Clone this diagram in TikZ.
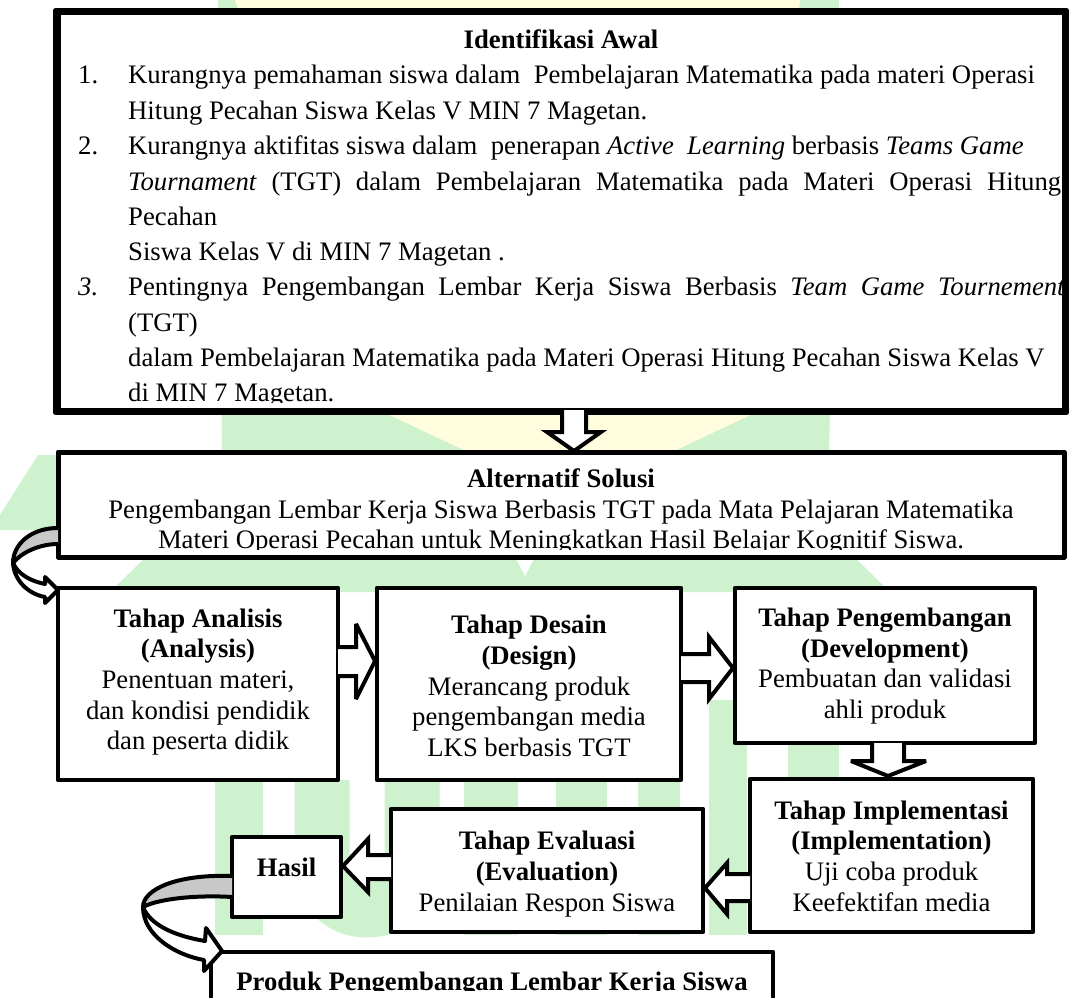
\documentclass[tikz,border=0pt]{standalone}
\usepackage{fontspec}
\setmainfont{Liberation Serif}
\definecolor{wmgreen}{HTML}{CDF2CD}
\definecolor{wmyellow}{HTML}{FFFDDE}
\definecolor{bandgray}{HTML}{C8C8C8}
\tikzset{
  box/.style={rectangle, draw=black, fill=white, line width=4.5pt, line join=round, inner sep=0pt},
  bigbox/.style={box, line width=5pt},
  blk/.style={draw=black, fill=white, line width=4pt, line join=miter, miter limit=4},
  curvearrow/.style={draw=black, line width=4pt, line join=round},
  t/.style={inner sep=0pt, font=\fontsize{26.7}{30.7}\selectfont},
  tb/.style={inner sep=0pt, font=\fontsize{26.7}{30.7}\selectfont\bfseries},
  tc/.style={t, align=center},
}
\begin{document}
\begin{tikzpicture}[x=1pt,y=-1pt]
\useasboundingbox (0,0) rectangle (1069,998);
\fill[white] (0,0) rectangle (1069,998);
% ---- watermark (faint logo behind the chart)
\fill[wmgreen] (218,0) -- (839,0) -- (829,455) -- (222,455) -- cycle;
\fill[wmyellow] (235,0) -- (800,0) -- (757,412) -- (570,500) -- (383,412) -- cycle;
\fill[wmgreen] (60,455) -- (60,530) -- (0,530) -- (0,515) -- (38,455) -- cycle;
\fill[wmgreen] (110,592) -- (150,553) -- (850,553) -- (890,592) -- cycle;
\fill[white] (513,553) -- (537,553) -- (525,576) -- cycle;
\fill[wmgreen] (215,780) rectangle (263,935);
\draw[wmgreen, line width=55pt] (322,780) -- (322,865) .. controls (322,925) and (412,925) .. (412,865) -- (412,780);
\fill[wmgreen] (464,780) rectangle (518,935);
\fill[wmgreen] (556,780) rectangle (607,935);
\fill[wmgreen] (638,780) rectangle (680,935);
\fill[wmgreen] (709,700) rectangle (747,935);
\fill[wmgreen] (788,740) rectangle (839,780);

% ---- boxes
\node[bigbox, minimum width=1006pt, minimum height=397pt] (ident) at (561,211.5) {};
\node[bigbox, minimum width=1006pt, minimum height=105pt] (alt) at (561,504.5) {};
\node[box, minimum width=280pt, minimum height=192pt] (ana) at (198,684) {};
\node[box, minimum width=304pt, minimum height=192pt] (des) at (529,684) {};
\node[box, minimum width=300pt, minimum height=155pt] (dev) at (885,665.5) {};
\node[box, minimum width=283pt, minimum height=153pt] (imp) at (891.5,855.5) {};
\node[box, minimum width=312pt, minimum height=123pt] (eva) at (547,870.5) {};
\node[box, minimum width=109pt, minimum height=80pt] (has) at (286.5,877) {};
\node[box, minimum width=562pt, minimum height=60pt] (pro) at (492,982) {};

% ---- text of the first box
\begin{scope}
\clip (58,13) rectangle (1064,402.5);
\node[tb, anchor=base] (identT) at (561,49) {Identifikasi Awal};
\node[t, anchor=base west] (n1) at (78,84) {1.};
\node[t, anchor=base west] (l1) at (128,84) {Kurangnya pemahaman siswa dalam\ \ Pembelajaran Matematika pada materi Operasi};
\node[t, anchor=base west] (l2) at (128,119) {Hitung Pecahan Siswa Kelas V MIN 7 Magetan.};
\node[t, anchor=base west] (n2) at (78,154.5) {2.};
\node[t, anchor=base west] (l3) at (128,154.5) {Kurangnya aktifitas siswa dalam\ \ penerapan \textit{Active\ \ Learning} berbasis \textit{Teams Game}};
\node[t, anchor=base west] (l4) at (128,190) {\makebox[933pt][s]{\textit{Tournament} (TGT) dalam Pembelajaran Matematika pada Materi Operasi Hitung}};
\node[t, anchor=base west] (l5) at (128,225) {Pecahan};
\node[t, anchor=base west] (l6) at (128,260.5) {Siswa Kelas V di MIN 7 Magetan .};
\node[t, anchor=base west] (n3) at (78,295.5) {\textit{3.}};
\node[t, anchor=base west] (l7) at (128,295.5) {\makebox[937pt][s]{Pentingnya Pengembangan Lembar Kerja Siswa Berbasis \textit{Team Game Tournement}}};
\node[t, anchor=base west] (l8) at (128,331) {(TGT)};
\node[t, anchor=base west] (l9) at (128,366) {dalam Pembelajaran Matematika pada Materi Operasi Hitung Pecahan Siswa Kelas V};
\node[t, anchor=base west] (l10) at (128,401.5) {di MIN 7 Magetan.};
\end{scope}
\draw[line width=5pt, line join=round] (ident.north west) rectangle (ident.south east);

% ---- text of the second box
\begin{scope}
\clip (58,452) rectangle (1064,549.5);
\node[tb, anchor=base] (altT) at (561,487) {Alternatif Solusi};
\node[t, anchor=base] (alt2) at (561,518) {Pengembangan Lembar Kerja Siswa Berbasis TGT pada Mata Pelajaran Matematika};
\node[t, anchor=base] (alt3) at (561,548) {Materi Operasi Pecahan untuk Meningkatkan Hasil Belajar Kognitif Siswa.};
\end{scope}

% ---- stage texts
\node[tc] (anaT) at (198,682) {\textbf{Tahap Analisis}\\\textbf{(Analysis)}\\Penentuan materi,\\dan kondisi pendidik\\dan peserta didik};
\node[tc] (desT) at (529,686) {\textbf{Tahap Desain}\\\textbf{(Design)}\\Merancang produk\\pengembangan media\\LKS berbasis TGT};
\node[tc] (devT) at (885,666) {\textbf{Tahap Pengembangan}\\\textbf{(Development)}\\Pembuatan dan validasi\\ahli produk};
\node[tc] (impT) at (891.5,856) {\textbf{Tahap Implementasi}\\\textbf{(Implementation)}\\Uji coba produk\\Keefektifan media};
\node[tc] (evaT) at (547,874) {\textbf{Tahap Evaluasi}\\\textbf{(Evaluation)}\\Penilaian Respon Siswa};
\node[tb] (hasT) at (286.5,867) {Hasil};
\begin{scope}
\clip (211,952) rectangle (773,990.5);
\node[tb, anchor=base] (proT) at (492,990) {Produk Pengembangan Lembar Kerja Siswa};
\end{scope}

% ---- block arrows
\draw[blk] (562,410) -- (562,432) -- (547,432) -- (574,451) -- (601,432) -- (586,432) -- (586,410);
\draw[blk] (338,647) -- (356,647) -- (356,624) -- (375,661) -- (356,699) -- (356,676) -- (338,676);
\draw[blk] (681,654) -- (709,654) -- (709,637) -- (733,668) -- (709,699) -- (709,682) -- (681,682);
\draw[blk] (872,743) -- (872,761) -- (851,761) -- (888,776) -- (926,761) -- (904,761) -- (904,743);
\draw[blk] (750,874) -- (727,874) -- (727,863) -- (705,888) -- (727,914) -- (727,901) -- (750,901);
\draw[blk] (391,855) -- (368,855) -- (368,839) -- (343,866) -- (368,892) -- (368,879) -- (391,879);

% ---- curved arrows
\draw[curvearrow, fill=bandgray] (58,528) .. controls (30,528) and (13,545) .. (13,563) .. controls (22,552) and (40,544) .. (58,544);
\draw[curvearrow, fill=white] (13,563) .. controls (14,580) and (28,594) .. (45,597) -- (45,603) -- (58,590) -- (45,577) -- (45,584) .. controls (30,581) and (18,574) .. (13,563) -- cycle;
\draw[curvearrow, fill=bandgray] (232,876) .. controls (175,874) and (143,890) .. (143,907) .. controls (160,898) and (200,895) .. (232,897);
\draw[curvearrow, fill=white] (143,907) .. controls (143,935) and (175,955) .. (204,960) -- (204,971) -- (222,951) -- (206,928) -- (205,941) .. controls (175,936) and (150,925) .. (143,907) -- cycle;
\end{tikzpicture}
\end{document}
